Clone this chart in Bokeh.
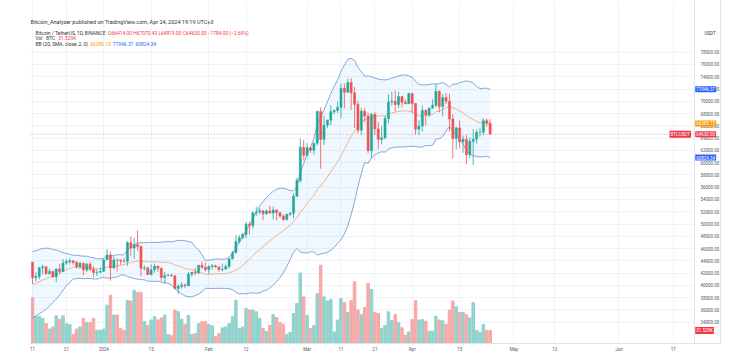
import pandas as pd
from bokeh.plotting import figure
from bokeh.models import Range1d, FixedTicker, NumeralTickFormatter, Label, Span, BoxAnnotation
from bokeh.embed import file_html
from bokeh.resources import INLINE

# ---------------- data (BTC/USDT daily, Binance) ----------------
start_date = "2023-12-11"
end_date = "2024-04-24"

opens = [43789, 41243, 41450, 42891, 43022, 41941, 42278, 41374, 42657, 42271,
         43652, 43869, 43997, 43739, 43016, 43613, 42520, 43442, 42627, 42099,
         42156, 42283, 44180, 44946, 42846, 44151, 44146, 43968, 43929, 46951,
         46110, 46633, 46339, 42782, 42847, 41733, 42511, 43137, 42776, 41263,
         41618, 41665, 41545, 39507, 39845, 40077, 39934, 41816, 42120, 42035,
         43288, 42952, 42582, 43082, 43200, 43011, 42583, 42659, 43084, 44318,
         45301, 47147, 47751, 48293, 49958, 49743, 51826, 51938, 52160, 51663,
         52122, 51779, 52284, 51839, 51304, 50731, 51571, 51733, 54522, 57085,
         62504, 61198, 62440, 62029, 63168, 68330, 63802, 66107, 66925, 68300,
         68498, 69020, 72123, 71482, 73079, 71388, 69499, 65300, 68393, 67609,
         61938, 67840, 65501, 63796, 64038, 67211, 69880, 69988, 69469, 70780,
         69851, 69582, 71280, 69649, 65463, 65963, 68488, 67820, 68897, 69361,
         71620, 69146, 70631, 70007, 67116, 63924, 65661, 63419, 63793, 61277,
         63470, 63818, 64940, 64941, 66819, 66414]
highs = [43800, 42104, 43000, 43400, 43080, 42700, 42424, 42757, 43497, 44283,
         44240, 44398, 44017, 43946, 43801, 43680, 43684, 43804, 43124, 42612,
         42900, 44184, 45900, 45500, 44730, 44340, 44187, 44495, 47248, 47972,
         47695, 48969, 46516, 43257, 43079, 43400, 43578, 43198, 42931, 42196,
         41869, 41873, 41689, 40127, 40555, 40300, 42210, 42200, 42842, 43305,
         43882, 43745, 43285, 43488, 43381, 43120, 43545, 43400, 44368, 45600,
         48200, 48170, 48592, 50334, 50368, 52043, 52816, 52575, 52200, 52369,
         52985, 52820, 52367, 52000, 51548, 51700, 51950, 54938, 57537, 63913,
         63677, 63200, 62600, 63230, 68500, 69000, 67637, 67000, 69350, 68660,
         69950, 72880, 72926, 73650, 73777, 72357, 70043, 68904, 68957, 68124,
         68100, 68240, 66650, 65999, 67624, 71150, 71561, 71769, 71552, 70916,
         70321, 71366, 71289, 69675, 66914, 69291, 68725, 69000, 70327, 72797,
         71758, 71172, 71305, 71227, 67932, 65840, 66867, 64365, 64473, 64125,
         65450, 65419, 65695, 67233, 67199, 67070]
lows = [40222, 40680, 40975, 41767, 41666, 41735, 41250, 40530, 41812, 42206,
        43330, 43412, 43351, 42750, 42720, 41676, 42167, 42318, 41300, 41520,
        41965, 42181, 44148, 40750, 42630, 42258, 43396, 43662, 43175, 44748,
        44300, 45606, 41500, 42436, 41720, 41718, 42050, 42200, 40683, 40280,
        41500, 41446, 39431, 38555, 39485, 39550, 39825, 41394, 41620, 41804,
        42683, 42276, 41884, 42546, 42880, 42222, 42259, 42575, 42788, 44250,
        45242, 46800, 47557, 47710, 48300, 49225, 51310, 51570, 50625, 51516,
        51715, 50760, 50625, 50930, 50500, 50582, 51282, 50901, 54441, 56738,
        60364, 61000, 61600, 61320, 62783, 59005, 62849, 65600, 66100, 67900,
        68100, 67194, 68845, 71333, 68555, 65630, 64781, 64533, 66595, 61555,
        60775, 64529, 62260, 63000, 63820, 66385, 69280, 68359, 68903, 69009,
        69540, 69562, 68062, 64550, 64493, 65064, 66011, 67447, 68789, 69040,
        68210, 67518, 69567, 65086, 60660, 62134, 62275, 61600, 59768, 60775,
        59600, 63090, 64237, 64500, 65864, 64819]
closes = [41243, 41450, 42891, 43022, 41941, 42278, 41374, 42657, 42271, 43652,
          43869, 43997, 43739, 43016, 43613, 42520, 43442, 42627, 42099, 42156,
          42283, 44180, 44946, 42846, 44151, 44146, 43968, 43929, 46951, 46110,
          46633, 46339, 42782, 42847, 41733, 42511, 43137, 42776, 41263, 41618,
          41665, 41545, 39507, 39845, 40077, 39934, 41816, 42120, 42035, 43288,
          42952, 42582, 43082, 43200, 43011, 42583, 42659, 43084, 44318, 45301,
          47147, 47751, 48293, 49958, 49743, 51826, 51938, 52160, 51663, 52122,
          51779, 52284, 51839, 51304, 50731, 51571, 51733, 54522, 57085, 62504,
          61198, 62440, 62029, 63168, 68330, 63802, 66107, 66925, 68300, 68498,
          69020, 72123, 71482, 73079, 71388, 69499, 65300, 68393, 67609, 61938,
          67840, 65501, 63796, 64038, 67211, 69880, 69988, 69469, 70780, 69851,
          69582, 71280, 69649, 65463, 65963, 68488, 67820, 68897, 69361, 71620,
          69146, 70631, 70007, 67116, 63924, 65661, 63419, 63793, 61277, 63470,
          63818, 64940, 64941, 66819, 66414, 64630]
volumes = [111000, 65000, 66000, 61000, 48000, 35000, 40000, 67000, 59000, 67000,
           48000, 46000, 22000, 35000, 40000, 61000, 51000, 51000, 61000, 32000,
           32000, 35000, 93000, 117000, 69000, 69000, 36000, 32000, 105000, 103000,
           129000, 124000, 124000, 53000, 44000, 57000, 65000, 57000, 62000, 69000,
           22000, 19000, 81000, 77000, 59000, 46000, 68000, 22000, 24000, 48000,
           53000, 53000, 46000, 43000, 17000, 24000, 38000, 40000, 48000, 65000,
           105000, 36000, 40000, 85000, 81000, 81000, 77000, 61000, 36000, 29000,
           44000, 70000, 63000, 51000, 46000, 22000, 27000, 73000, 97000, 171000,
           113000, 68000, 36000, 43000, 121000, 190000, 113000, 103000, 107000, 28000,
           57000, 109000, 99000, 75000, 104000, 150000, 81000, 70000, 87000, 146000,
           131000, 75000, 73000, 36000, 44000, 77000, 56000, 70000, 51000, 38000,
           20000, 28000, 58000, 104000, 57000, 58000, 54000, 30000, 30000, 66000,
           57000, 55000, 46000, 81000, 103000, 89000, 75000, 75000, 70000, 62000,
           99000, 32000, 27000, 46000, 32000, 31529]
bb_basis = [40126, 40328, 40608, 40873, 41080, 41320, 41526, 41767, 41988, 42285,
            42544, 42772, 42960, 43012, 42988, 42926, 42933, 42856, 42776, 42694,
            42746, 42883, 42986, 42977, 43088, 43181, 43311, 43375, 43609, 43732,
            43870, 43987, 43939, 43930, 43836, 43836, 43821, 43828, 43786, 43759,
            43729, 43597, 43325, 43175, 42972, 42761, 42653, 42563, 42317, 42176,
            41992, 41804, 41819, 41837, 41901, 41904, 41880, 41895, 42048, 42232,
            42506, 42816, 43255, 43761, 44244, 44839, 45345, 45847, 46328, 46769,
            47211, 47696, 48134, 48539, 48925, 49374, 49828, 50400, 51038, 51898,
            52601, 53335, 54022, 54683, 55612, 56211, 56919, 57658, 58490, 59309,
            60171, 61163, 62145, 63234, 64267, 65163, 65842, 66535, 67061, 67033,
            67365, 67518, 67607, 67650, 67594, 67898, 68092, 68219, 68343, 68411,
            68439, 68397, 68305, 67924, 67653, 67602, 67728, 67754, 67841, 68325,
            68391, 68647, 68958, 69112, 68947, 68736, 68408, 68124, 67649, 67330,
            67042, 66725, 66489, 66557, 66580, 66385]
bb_upper = [45550, 45640, 45850, 46030, 46060, 46040, 45850, 45770, 45570, 45350,
            45190, 45080, 44900, 44910, 44830, 44750, 44770, 44590, 44500, 44370,
            44300, 44440, 44790, 44780, 44890, 45000, 44960, 45020, 45800, 46170,
            46620, 46940, 46940, 46950, 47000, 47000, 47000, 46990, 47060, 47090,
            47130, 47110, 47200, 47340, 47310, 47260, 47130, 47010, 46280, 45780,
            44990, 44080, 44120, 44180, 44300, 44300, 44240, 44280, 44630, 45170,
            46130, 47060, 47840, 48930, 49740, 50890, 51960, 52920, 53610, 54330,
            54850, 55330, 55670, 55830, 55810, 55700, 55430, 55420, 56060, 58370,
            59860, 61410, 62580, 63900, 66290, 67310, 68620, 69920, 71260, 72430,
            73470, 74910, 75900, 76830, 77010, 76680, 75570, 74800, 74100, 74150,
            73970, 73790, 73610, 73540, 73470, 73580, 73790, 73920, 74140, 74250,
            74300, 74160, 73930, 73230, 72770, 72670, 72690, 72730, 72860, 72810,
            72890, 73040, 72770, 72330, 72800, 72820, 73050, 73160, 73330, 73210,
            73010, 72420, 72070, 72120, 72140, 71946]
bb_lower = [34700, 35010, 35370, 35710, 36100, 36600, 37200, 37770, 38410, 39220,
            39900, 40470, 41020, 41110, 41150, 41100, 41100, 41120, 41050, 41020,
            41190, 41320, 41180, 41170, 41290, 41370, 41660, 41730, 41410, 41290,
            41120, 41030, 40940, 40910, 40670, 40680, 40640, 40670, 40510, 40430,
            40330, 40080, 39450, 39010, 38630, 38260, 38170, 38120, 38350, 38570,
            38990, 39520, 39520, 39490, 39500, 39510, 39520, 39510, 39470, 39290,
            38880, 38570, 38670, 38590, 38750, 38790, 38720, 38770, 39050, 39210,
            39570, 40060, 40600, 41240, 42040, 43050, 44230, 45380, 46020, 45420,
            45340, 45260, 45460, 45460, 44930, 45110, 45220, 45400, 45720, 46190,
            46870, 47420, 48390, 49640, 51520, 53650, 56120, 58270, 60020, 59910,
            60760, 61250, 61600, 61760, 61710, 62210, 62390, 62520, 62540, 62570,
            62580, 62630, 62680, 62620, 62530, 62540, 62770, 62780, 62820, 63840,
            63890, 64250, 65140, 65900, 65090, 64650, 63760, 63090, 61960, 61450,
            61070, 61030, 60910, 60990, 61020, 60824]

price_ticks = [34000, 36000, 38000, 40000, 42000, 44000, 46000, 48000, 50000, 52000,
               54000, 56000, 58000, 60000, 62000, 64000, 66000, 68000, 70000, 72000,
               74000, 76000, 78000]
time_tick_dates = ["2023-12-11", "2023-12-21", "2024-01-01", "2024-01-15", "2024-02-01",
                   "2024-02-12", "2024-03-01", "2024-03-11", "2024-03-21", "2024-04-01",
                   "2024-04-15", "2024-05-01", "2024-05-13", "2024-06-01", "2024-06-17"]
time_tick_labels = ["11", "21", "2024", "15", "Feb", "12", "Mar", "11", "21", "Apr",
                    "15", "May", "13", "Jun", "17"]

last_close = 64630.00
last_volume = 31529
bb_last = [66385.15, 71946.37, 60824.34]

# ---------------- derived positions ----------------
dates = pd.date_range(start_date, end_date, freq="D")
t0 = pd.Timestamp(start_date)
xs = [(d - t0).days for d in dates]
tick_x = [(pd.Timestamp(d) - t0).days for d in time_tick_dates]

UP = "#26a69a"
DOWN = "#ef5350"
up = [c >= o for o, c in zip(opens, closes)]
col = [UP if u else DOWN for u in up]
vcol = ["#92d2cc" if u else "#f7a9a7" for u in up]
body_top = [max(o, c) for o, c in zip(opens, closes)]
body_bot = [min(o, c) for o, c in zip(opens, closes)]

FONT = "Roboto"
X_LEFT, X_RIGHT = -0.59, 202.95      # frame spans the price pane + price scale
X_SCALE = 195.28                    # day position of the price-scale border

p = figure(width=750, height=358, output_backend="svg", toolbar_location=None,
           x_range=Range1d(X_LEFT, X_RIGHT), y_range=Range1d(30526, 86426),
           y_axis_location="right", min_border_left=30, min_border_right=30,
           min_border_top=0, min_border_bottom=15, background_fill_color="white",
           border_fill_color="white", outline_line_color=None)
p.extra_y_ranges = {"vol": Range1d(0, 831775)}

# grid
p.xgrid.ticker = FixedTicker(ticks=tick_x)
p.ygrid.ticker = FixedTicker(ticks=price_ticks)
p.xgrid.grid_line_color = "#f0f3fa"
p.ygrid.grid_line_color = "#f0f3fa"

# last price line (under everything)
p.add_layout(Span(location=last_close, dimension="width", line_color="#f23645",
                  line_dash="1 2", line_width=0.8, line_alpha=0.7, level="underlay"))

# volume
p.vbar(x=xs, top=volumes, bottom=0, width=0.74, color=vcol, y_range_name="vol")

# Bollinger band
p.varea(x=xs, y1=bb_lower, y2=bb_upper, fill_color="#2196f3", fill_alpha=0.07)
p.line(xs, bb_upper, line_color="#6f8fcf", line_width=0.8)
p.line(xs, bb_lower, line_color="#6f8fcf", line_width=0.8)
p.line(xs, bb_basis, line_color="#f0a46c", line_width=0.8)

# candles
p.segment(x0=xs, y0=lows, x1=xs, y1=highs, color=col, line_width=0.8)
p.vbar(x=xs, top=body_top, bottom=body_bot, width=0.62, fill_color=col, line_color=col, line_width=0.5)

# price-scale strip: white background + left border line
p.add_layout(BoxAnnotation(left=X_SCALE, fill_color="white", fill_alpha=1.0,
                           line_color=None, level="glyph"))
p.add_layout(Span(location=X_SCALE, dimension="height", line_color="#e0e3eb",
                  line_width=1, level="glyph"))

# axes
ya = p.yaxis[0]
ya.ticker = FixedTicker(ticks=price_ticks)
ya.formatter = NumeralTickFormatter(format="0.00")
ya.major_label_text_font = FONT
ya.major_label_text_font_size = "4.5px"
ya.major_label_text_color = "#555a66"
ya.axis_line_color = "#e0e3eb"
ya.major_tick_out = 0
ya.major_tick_in = 0
ya.minor_tick_out = 0
ya.minor_tick_in = 0
ya.major_label_standoff = -20

xa = p.xaxis[0]
xa.ticker = FixedTicker(ticks=tick_x)
xa.major_label_overrides = {tx: lab for tx, lab in zip(tick_x, time_tick_labels)}
xa.major_label_text_font = FONT
xa.major_label_text_font_size = "4.5px"
xa.major_label_text_color = "#555a66"
xa.axis_line_color = "#e0e3eb"
xa.major_tick_out = 0
xa.major_tick_in = 0
xa.minor_tick_out = 0
xa.minor_tick_in = 0
xa.major_label_standoff = 3


def lab(x, y, text, color="#333333", size="4.9px", bg=None, **kw):
    l = Label(x=x, y=y, text=text, text_font=FONT, text_font_size=size,
              text_color=color, text_baseline="middle", **kw)
    if bg is not None:
        l.background_fill_color = bg
        l.padding = 1
    p.add_layout(l)
    return l


# header (x in days, y in price so they sit above the data)
lab(-0.59, 83003, "Bitcoin_Analyzer published on TradingView.com, Apr 24, 2024 19:19 UTC+3",
    "#333333", size="5.5px")
lab(0.88, 81097, "Bitcoin / TetherUS, 1D, BINANCE", "#333333")
lab(22.3, 81097, "O66414.00 H67070.43 L64819.00 C64630.00 \u22121784.00 (\u22122.69%)", "#f23645")
lab(0.88, 80282, "Vol \u00b7 BTC", "#333333")
lab(7.6, 80282, "31.529K", "#f23645")
lab(0.88, 79369, "BB (20, SMA, close, 2, 0)", "#333333")
lab(17.0, 79369, "66385.15", "#ff9800")
lab(23.7, 79369, "71946.37", "#2962ff")
lab(30.4, 79369, "60824.34", "#2962ff")

# price-scale tags
lab(198.2, 81097, "USDT", "#333333", size="4.5px")
lab(195.5, bb_last[1], "71946.37", "white", size="4.5px", bg="#2962ff")
lab(195.5, bb_last[0], "66385.15", "white", size="4.5px", bg="#ff9800")
lab(187.9, last_close, "BTCUSDT", "white", size="4.5px", bg="#f23645")
lab(195.5, last_close, "64630.00", "white", size="4.5px", bg="#f23645")
lab(195.5, bb_last[2], "60824.34", "white", size="4.5px", bg="#2962ff")
vl = Label(x=195.5, y=last_volume, y_range_name="vol", text="31.529K", text_font=FONT,
           text_font_size="4.5px", text_color="white", text_baseline="middle",
           background_fill_color="#f23645", padding=1)
p.add_layout(vl)

open("out.html", "w").write(file_html(p, INLINE))
